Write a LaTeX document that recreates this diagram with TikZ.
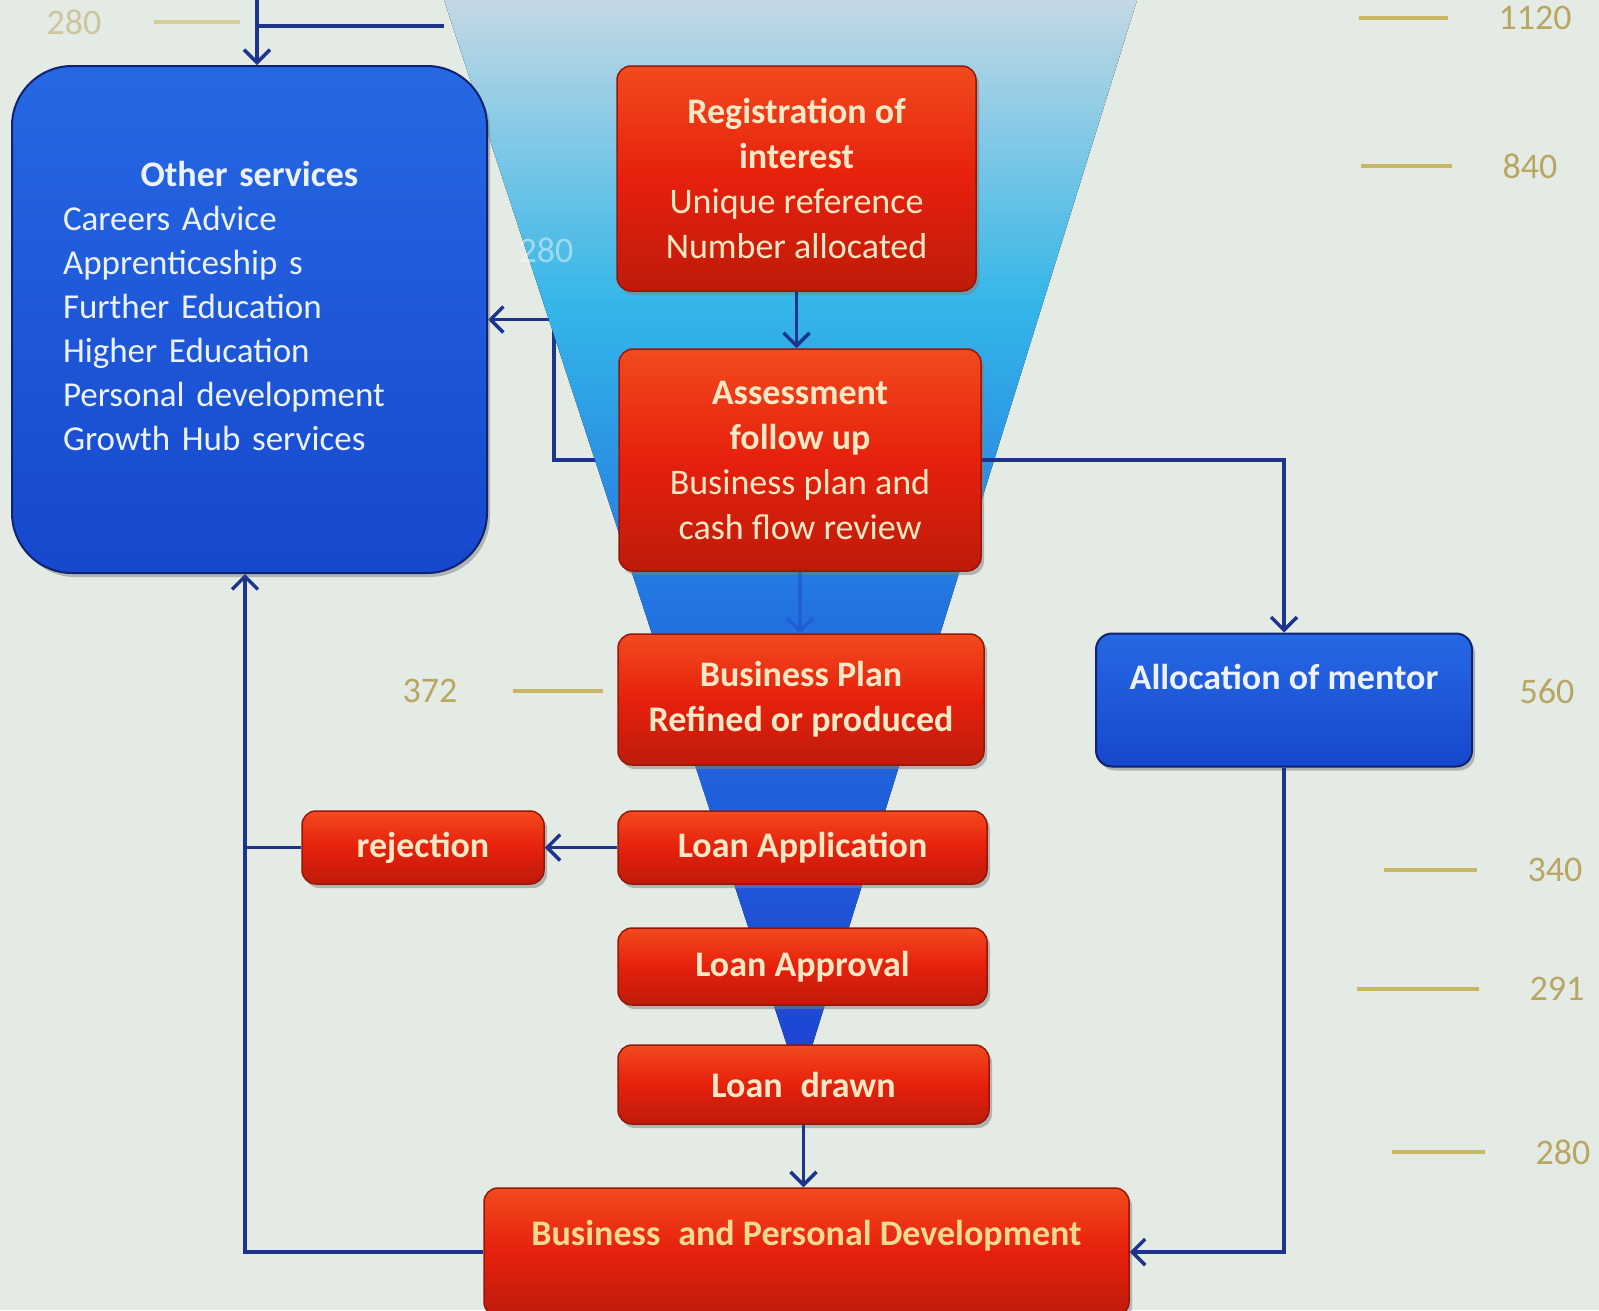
\documentclass[tikz,border=0pt]{standalone}
\usepackage{fontspec}
\setmainfont{Carlito}
\usetikzlibrary{arrows.meta,shadows,backgrounds}

\definecolor{pagebg}{RGB}{228,235,229}
\definecolor{linenavy}{RGB}{28,52,140}
\definecolor{boxred}{RGB}{230,32,12}
\definecolor{boxredtop}{RGB}{242,74,30}
\definecolor{boxreddark}{RGB}{150,22,10}
\definecolor{boxblue}{RGB}{22,72,205}
\definecolor{boxbluetop}{RGB}{38,104,228}
\definecolor{boxbluedark}{RGB}{15,35,110}
\definecolor{textcream}{RGB}{250,232,196}
\definecolor{textgold}{RGB}{243,218,145}
\definecolor{textwhite}{RGB}{236,242,252}
\definecolor{numkhaki}{RGB}{184,166,98}
\definecolor{tickkhaki}{RGB}{200,184,100}
\definecolor{funneltop}{RGB}{196,216,228}
\definecolor{funnelcyan}{RGB}{52,182,232}
\definecolor{funnelblue}{RGB}{35,115,225}
\definecolor{funnelbot}{RGB}{28,65,210}
\definecolor{faintarrow}{RGB}{30,70,200}

\pgfdeclareverticalshading{funnelshade}{100bp}{color(0bp)=(funnelbot); color(25bp)=(funnelbot); color(47bp)=(funnelblue); color(61bp)=(funnelcyan); color(75bp)=(funneltop); color(100bp)=(funneltop)}

\begin{document}
\begin{tikzpicture}[x=1pt,y=-1pt,>={Straight Barb[length=13pt,width=26pt]}]
	\tikzstyle{step box}=[rectangle, rounded corners=14pt, draw=boxreddark, line width=1.5pt,
		top color=boxredtop, bottom color=boxreddark!50!boxred, middle color=boxred,
		text=textcream, align=center, inner sep=4pt, font=\bfseries\fontsize{36}{45}\selectfont,
		drop shadow={shadow xshift=3pt, shadow yshift=-4pt, opacity=0.5}]
	\tikzstyle{service box}=[rectangle, rounded corners=60pt, draw=boxbluedark, line width=2pt,
		top color=boxbluetop, bottom color=boxblue, text=textwhite, inner sep=4pt,
		font=\fontsize{35}{44}\selectfont,
		drop shadow={shadow xshift=3pt, shadow yshift=-4pt, opacity=0.5}]
	\tikzstyle{flow}=[->, draw=linenavy, line width=3.5pt]
	\tikzstyle{line}=[draw=linenavy, line width=3.5pt]
	\tikzstyle{count}=[text=numkhaki, font=\fontsize{36}{40}\selectfont]
	\tikzstyle{tick}=[draw=tickkhaki, line width=3.5pt]

	\useasboundingbox (0,0) rectangle (1599,1310);

	% Draw the service boxes
	\node[service box, minimum width=475pt, minimum height=507pt, text width=373pt, align=left,
		text depth=292pt] (other) at (249.5,319.5)
		{\makebox[\linewidth]{\bfseries\fontsize{36}{44}\selectfont Other services}\\
		Careers Advice\\ Apprenticeship s\\ Further Education\\ Higher Education\\
		Personal development\\ Growth Hub services};
	\node[service box, minimum width=376pt, minimum height=133pt, rounded corners=16pt,
		font=\bfseries\fontsize{36}{44}\selectfont, text height=25pt, text depth=47pt]
		(mentor) at (1284,700) {Allocation of mentor};

	% Draw the funnel steps
	\node[step box, minimum width=359pt, minimum height=225pt] (reg) at (796.5,178.5)
		{Registration of\\interest\\\mdseries Unique reference\\\mdseries Number allocated};
	\node[step box, minimum width=362pt, minimum height=222pt] (assess) at (800,460)
		{Assessment\\follow up\\\mdseries Business plan and\\\mdseries cash flow review};
	\node[step box, minimum width=366pt, minimum height=131pt] (plan) at (801,699.5)
		{Business Plan\\Refined or produced};
	\node[step box, minimum width=369pt, minimum height=73pt] (apply) at (802.5,847.5) {Loan Application};
	\node[step box, minimum width=242pt, minimum height=73pt] (reject) at (423,847.5) {rejection};
	\node[step box, minimum width=369pt, minimum height=77pt] (approve) at (802.5,966.5) {Loan Approval};
	\node[step box, minimum width=371pt, minimum height=79pt] (drawn) at (803.5,1084.5) {Loan\enspace drawn};
	\node[step box, minimum width=645pt, minimum height=128pt, text=textgold,
		text height=25pt, text depth=39pt] (develop) at (806.5,1252)
		{Business\enspace and Personal Development};

	% Draw the counts at the side
	\foreach \name/\val/\x/\y in {c1/1120/1535/18, c2/840/1530/166, c3/560/1547/691,
		c4/340/1555/870, c5/291/1557/989, c6/280/1563/1152, c7/372/430/691}
		\node[count] (\name) at (\x,\y) {\val};
	\node[count, text=numkhaki!55!pagebg] (c0) at (74,22) {280};
	\node[count, text=white, opacity=0.45] (c8) at (546,250) {280};

	\foreach \name/\len in {c1/89, c2/91, c4/93, c5/122, c6/93}
		\draw[tick] ([xshift=-47pt]\name.west) -- ++(-\len,0);
	\draw[tick] ([xshift=52pt]c7.east) -- ++(90,0);
	\draw[tick, draw=tickkhaki!55!pagebg] ([xshift=49pt]c0.east) -- ++(86,0);

	% Connect the steps down the funnel
	\draw[flow] (reg.south) -- (reg.south |- assess.north);
	\draw[flow, draw=faintarrow, opacity=0.45] (assess.south) -- (assess.south |- plan.north);
	\draw[flow] (drawn.south) -- (drawn.south |- develop.north);

	% Connect the assessment with the mentor
	\draw[flow] (assess.east) -| (mentor.north);
	\draw[flow] (mentor.south) |- (develop.east);

	% Connect the rejection and the development back to the other services
	\coordinate (backleft) at (245,1252);
	\draw[flow] (apply.west) -- (reject.east);
	\draw[line] (reject.west) -- (reject.west -| backleft);
	\draw[flow] (develop.west) -- (backleft) -- (backleft |- other.south);

	% Feed the other services from the top
	\coordinate (topin) at (257,0);
	\coordinate (topfeed) at (444,26);
	\draw[line] (topfeed) -- (topfeed -| topin);
	\draw[flow] (topin) -- (topin |- other.north);

	\begin{pgfonlayer}{background}
		\fill[pagebg] (0,0) rectangle (1599,1310);
		% Connect the assessment back to the other services
		\coordinate (backmid) at (554,319.5);
		\draw[flow] (assess.west) -| (backmid) -- (other.east);
		% Draw the funnel
		\fill[shading=funnelshade] (444,0) -- (1137,0) -- (800,1085) -- cycle;
	\end{pgfonlayer}
\end{tikzpicture}
\end{document}
